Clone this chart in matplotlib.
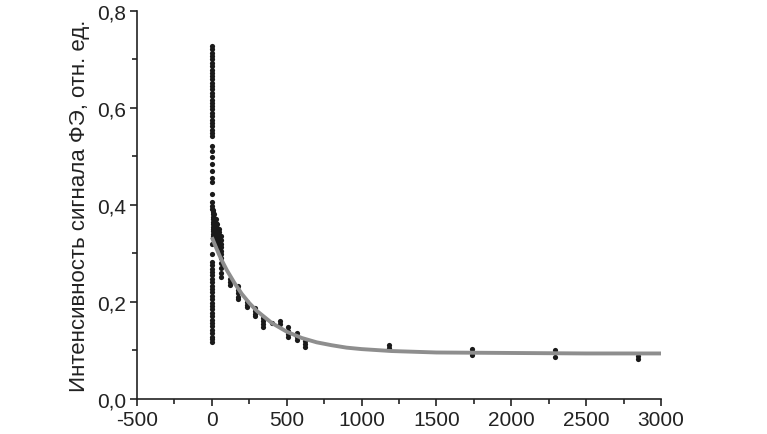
import matplotlib
matplotlib.use("Agg")
import matplotlib.pyplot as plt
import numpy as np

plt.rcParams['font.family'] = ['Liberation Sans', 'DejaVu Sans']
plt.rcParams['axes.unicode_minus'] = False

# vertical column of points near t = 0
column_y = [0.727, 0.721, 0.714, 0.707, 0.700, 0.693, 0.686, 0.679, 0.672, 0.666,
            0.659, 0.652, 0.645, 0.638, 0.631, 0.624, 0.617, 0.611, 0.604, 0.597,
            0.590, 0.583, 0.576, 0.569, 0.562, 0.555, 0.548, 0.541, 0.521, 0.510,
            0.498, 0.484, 0.470, 0.455, 0.447, 0.422, 0.405, 0.398, 0.392,
            0.319, 0.298, 0.282, 0.275, 0.268, 0.261, 0.254, 0.247, 0.240, 0.233,
            0.226, 0.219, 0.212, 0.205, 0.198, 0.191, 0.184, 0.177, 0.170, 0.163,
            0.156, 0.149, 0.142, 0.135, 0.128, 0.122, 0.117]

# dense cluster right after t = 0
cluster_x = [5] * 12 + [15] * 8 + [25] * 7 + [35] * 6 + [45] * 6 + [62] * 11
cluster_y = [0.390, 0.385, 0.380, 0.375, 0.370, 0.365, 0.360, 0.355, 0.350, 0.345, 0.340, 0.335,
             0.380, 0.372, 0.365, 0.358, 0.350, 0.343, 0.336, 0.330,
             0.370, 0.362, 0.355, 0.347, 0.340, 0.333, 0.326,
             0.360, 0.352, 0.345, 0.338, 0.330, 0.322,
             0.350, 0.343, 0.336, 0.328, 0.320, 0.313,
             0.335, 0.327, 0.320, 0.312, 0.305, 0.298, 0.290, 0.280, 0.270, 0.260, 0.250]

# later measurements
tail_x = [120, 120, 120, 175, 175, 175, 175, 175, 232, 232, 232,
          290, 290, 290, 290, 345, 345, 345, 345, 400, 455, 455,
          510, 510, 510, 510, 566, 566, 566, 622, 622, 622,
          1180, 1180, 1735, 1735, 1735, 2290, 2290, 2845, 2845]
tail_y = [0.247, 0.240, 0.235, 0.233, 0.225, 0.218, 0.210, 0.205, 0.200, 0.194, 0.188,
          0.186, 0.180, 0.174, 0.170, 0.167, 0.160, 0.153, 0.148, 0.156, 0.160, 0.153,
          0.148, 0.140, 0.133, 0.128, 0.136, 0.128, 0.120, 0.118, 0.112, 0.107,
          0.111, 0.104, 0.102, 0.096, 0.090, 0.100, 0.086, 0.087, 0.081]

# fitted decay curve
fit_x = [0, 25, 50, 75, 100, 150, 200, 250, 300, 400, 500, 600, 700, 800,
         900, 1000, 1200, 1500, 2000, 2500, 3000]
fit_y = [0.333, 0.314, 0.296, 0.280, 0.265, 0.239, 0.216, 0.197, 0.181, 0.156,
         0.138, 0.125, 0.116, 0.110, 0.105, 0.102, 0.098, 0.095, 0.094, 0.093, 0.093]

x_ticks = [-500, 0, 500, 1000, 1500, 2000, 2500, 3000]
y_ticks = [0.0, 0.2, 0.4, 0.6, 0.8]
y_tick_labels = ['0,0', '0,2', '0,4', '0,6', '0,8']

fig = plt.figure(figsize=(7.67, 4.35), dpi=100)
ax = fig.add_axes([0.1786, 0.0816, 0.6832, 0.8908])

pt_color = '#1a1a1a'
ax.scatter([0] * len(column_y), column_y, s=14, color=pt_color, linewidths=0, zorder=2)
ax.scatter(cluster_x, cluster_y, s=14, color=pt_color, linewidths=0, zorder=2)
ax.scatter(tail_x, tail_y, s=14, color=pt_color, linewidths=0, zorder=2)
ax.plot(fit_x, fit_y, color='#8e8e8e', lw=2.8, solid_capstyle='butt', zorder=3)

ax.set_xlim(-500, 3000)
ax.set_ylim(0, 0.8)
ax.set_xticks(x_ticks)
ax.set_yticks(y_ticks)
ax.set_yticklabels(y_tick_labels)
ax.set_xticks(np.arange(-250, 3000, 500), minor=True)
ax.set_yticks([0.1, 0.3, 0.5, 0.7], minor=True)

for side in ['top', 'right']:
    ax.spines[side].set_visible(False)
for side in ['left', 'bottom']:
    ax.spines[side].set_linewidth(1.2)
    ax.spines[side].set_color('#222222')

ax.tick_params(axis='both', which='major', direction='out', length=5, width=1.2,
               labelsize=15, colors='#222222', pad=3)
ax.tick_params(axis='both', which='minor', direction='out', length=3.5, width=1.2,
               colors='#222222')

ax.set_ylabel('Интенсивность сигнала ФЭ, отн. ед.', fontsize=16, color='#222222',
              labelpad=5)

fig.savefig('out.png', dpi=100)
